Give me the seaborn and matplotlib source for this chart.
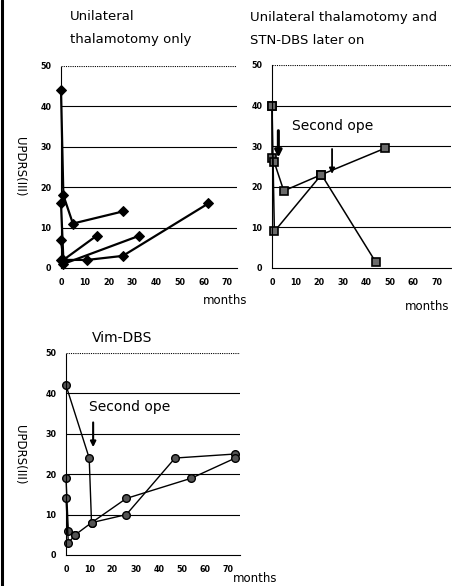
import matplotlib
matplotlib.use("Agg")
import matplotlib.pyplot as plt
import seaborn as sns
import pandas as pd
from matplotlib.lines import Line2D

# ---- data ----
tl_months = [[0, 1, 5, 26], [0, 1, 11, 26, 62], [0, 1, 15], [0, 1, 33]]
tl_updrs = [[44, 18, 11, 14], [16, 2, 2, 3, 16], [7, 2, 8], [2, 1, 8]]

tr_months = [[0, 0, 1, 5, 21, 48], [0, 1, 21, 44]]
tr_updrs = [[40, 27, 26, 19, 23, 29.5], [40, 9, 23, 1.5]]

bt_months = [[0, 10, 11, 26, 47, 73], [0, 1, 4, 11, 26, 54, 73], [0, 1, 4]]
bt_updrs = [[42, 24, 8, 10, 24, 25], [19, 6, 5, 8, 14, 19, 24], [14, 3, 5]]

y_ticks = [0, 10, 20, 30, 40, 50]
x_ticks = [0, 10, 20, 30, 40, 50, 60, 70]


def to_df(months, updrs):
    rows = []
    for p, (ms, us) in enumerate(zip(months, updrs)):
        for i, (m, u) in enumerate(zip(ms, us)):
            rows.append({"patient": p, "order": i, "month": m, "updrs": u})
    return pd.DataFrame(rows)


sns.set_style("white")
plt.rcParams["font.family"] = ["DejaVu Sans"]
plt.rcParams["text.color"] = "black"
plt.rcParams["xtick.color"] = "black"
plt.rcParams["ytick.color"] = "black"

fig = plt.figure(figsize=(4.69, 5.86), dpi=100)

ax_tl = fig.add_axes([61 / 469, 1 - 268 / 586, 176 / 469, 202 / 586])
ax_tr = fig.add_axes([272 / 469, 1 - 268 / 586, 179 / 469, 203 / 586])
ax_bt = fig.add_axes([66 / 469, 1 - 555 / 586, 174 / 469, 202 / 586])


def style(ax, xmax):
    ax.set_xlim(0, xmax)
    ax.set_ylim(0, 50)
    ax.set_xticks(x_ticks)
    ax.set_yticks(y_ticks)
    ax.tick_params(length=0, labelsize=5.8, pad=7, colors="black")
    for lab in ax.get_xticklabels() + ax.get_yticklabels():
        lab.set_fontweight("bold")
    for y in [10, 20, 30, 40]:
        ax.axhline(y, color="black", lw=0.8, zorder=0)
    ax.axhline(50, color="black", lw=0.8, ls=(0, (1, 1)), zorder=0)
    for s in ["top", "right"]:
        ax.spines[s].set_visible(False)
    for s in ["left", "bottom"]:
        ax.spines[s].set_color("black")
        ax.spines[s].set_linewidth(0.8)
        ax.spines[s].set_linestyle((0, (1, 1)))
    ax.set_xlabel("")
    ax.set_ylabel("")


df_tl = to_df(tl_months, tl_updrs)
sns.lineplot(data=df_tl, x="month", y="updrs", units="patient", estimator=None,
             sort=False, color="black", lw=1.6, marker="D", markersize=5,
             markerfacecolor="black", markeredgecolor="black", clip_on=False, ax=ax_tl)
style(ax_tl, 74)

df_tr = to_df(tr_months, tr_updrs)
sns.lineplot(data=df_tr, x="month", y="updrs", units="patient", estimator=None,
             sort=False, color="black", lw=1.1, marker="s", markersize=6,
             markerfacecolor="#6a6a6a", markeredgecolor="black", markeredgewidth=1.2,
             clip_on=False, ax=ax_tr)
style(ax_tr, 76)
ax_tr.annotate("", xy=(2.7, 26.5), xytext=(2.7, 34.5),
               arrowprops=dict(arrowstyle="-|>", color="black", lw=2.2, mutation_scale=10))
ax_tr.annotate("", xy=(25.5, 22.5), xytext=(25.5, 30),
               arrowprops=dict(arrowstyle="-|>", color="black", lw=1.3, mutation_scale=8))
ax_tr.text(8.3, 35, "Second ope", fontsize=10, va="center", ha="left")

df_bt = to_df(bt_months, bt_updrs)
sns.lineplot(data=df_bt, x="month", y="updrs", units="patient", estimator=None,
             sort=False, color="black", lw=1.0, marker="o", markersize=5.5,
             markerfacecolor="#555555", markeredgecolor="black", markeredgewidth=1.0,
             clip_on=False, ax=ax_bt)
style(ax_bt, 75)
ax_bt.annotate("", xy=(11.7, 26), xytext=(11.7, 33.5),
               arrowprops=dict(arrowstyle="-|>", color="black", lw=1.5, mutation_scale=8))
ax_bt.text(10, 36.6, "Second ope", fontsize=10, va="center", ha="left")

# titles and labels
fig.text(70 / 469, 1 - 17 / 586, "Unilateral", fontsize=9.5, va="center", ha="left")
fig.text(70 / 469, 1 - 40 / 586, "thalamotomy only", fontsize=9.5, va="center", ha="left")
fig.text(250 / 469, 1 - 17 / 586, "Unilateral thalamotomy and", fontsize=9.5, va="center", ha="left")
fig.text(250 / 469, 1 - 40 / 586, "STN-DBS later on", fontsize=9.5, va="center", ha="left")
fig.text(122 / 469, 1 - 338 / 586, "Vim-DBS", fontsize=10, va="center", ha="center")

fig.text(19 / 469, 1 - 167 / 586, "UPDRS(III)", fontsize=8.5, rotation=270, va="center", ha="center")
fig.text(19 / 469, 1 - 455 / 586, "UPDRS(III)", fontsize=8.5, rotation=270, va="center", ha="center")

fig.text(225 / 469, 1 - 300 / 586, "months", fontsize=8.5, va="center", ha="center")
fig.text(427 / 469, 1 - 307 / 586, "months", fontsize=8.5, va="center", ha="center")
fig.text(255 / 469, 1 - 578 / 586, "months", fontsize=8.5, va="center", ha="center")

fig.add_artist(Line2D([2 / 469, 2 / 469], [0, 1], color="black", lw=2.2, transform=fig.transFigure))

fig.savefig("out.png", dpi=100)
